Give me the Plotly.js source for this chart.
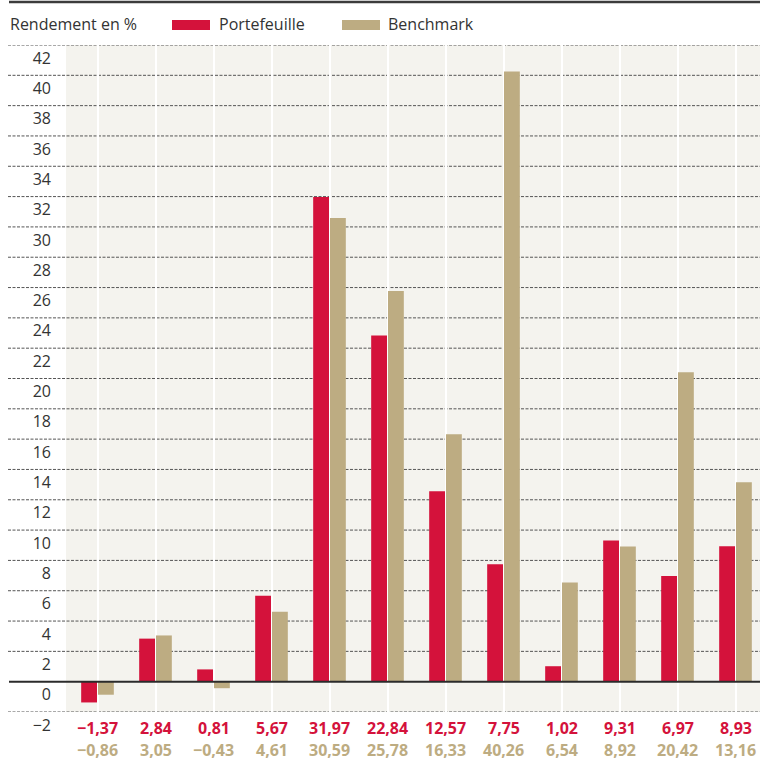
<!DOCTYPE html>
<html>
<head>
<meta charset="utf-8">
<script src="https://cdn.plot.ly/plotly-3.0.1.min.js"></script>
<style>
  html, body { margin: 0; padding: 0; background: #ffffff; }
  #chart { width: 760px; height: 758px; }
</style>
</head>
<body>
<div id="chart"></div>
<script>
// ---- Data ----
var categories = [1, 2, 3, 4, 5, 6, 7, 8, 9, 10, 11, 12];
var portefeuille = [-1.37, 2.84, 0.81, 5.67, 31.97, 22.84, 12.57, 7.75, 1.02, 9.31, 6.97, 8.93];
var benchmark = [-0.86, 3.05, -0.43, 4.61, 30.59, 25.78, 16.33, 40.26, 6.54, 8.92, 20.42, 13.16];
var yTickValues = [-2, 0, 2, 4, 6, 8, 10, 12, 14, 16, 18, 20, 22, 24, 26, 28, 30, 32, 34, 36, 38, 40, 42];
var seriesNames = ['Portefeuille', 'Benchmark'];
var yTitle = 'Rendement en %';

// ---- Style ----
var RED = '#d4123b';
var TAN = '#bdac82';
var BG = '#f4f3ee';
var TEXT = '#333333';
var FONT = 'Open Sans, Noto Sans, sans-serif';

var W = 760, H = 758;
var M = {l: 66, r: 0, t: 45, b: 46};
var PW = W - M.l - M.r, PH = H - M.t - M.b;
function px2x(px) { return (px - M.l) / PW; }
function px2y(py) { return 1 - (py - M.t) / PH; }

function fmt(v) {
  return v.toFixed(2).replace('.', ',').replace('-', '\u2212');
}

var idx = categories.map(function (c, i) { return i; });

var traces = [
  {type: 'bar', x: idx, y: portefeuille, name: seriesNames[0],
   marker: {color: RED, line: {width: 0}}, hoverinfo: 'skip'},
  {type: 'bar', x: idx, y: benchmark, name: seriesNames[1],
   marker: {color: TAN, line: {width: 0}}, hoverinfo: 'skip'}
];

var shapes = [];
// dashed horizontal gridlines, extending into left margin
yTickValues.forEach(function (v) {
  if (v === 0) return;
  shapes.push({type: 'line', xref: 'paper', yref: 'y', x0: px2x(8), x1: 1, y0: v, y1: v,
    line: {color: '#555555', width: 1, dash: '3px,1.5px'}, layer: 'below'});
});
// zero line
shapes.push({type: 'line', xref: 'paper', yref: 'y', x0: px2x(9), x1: 1, y0: 0, y1: 0,
  line: {color: '#2b2b2b', width: 2}, layer: 'above'});
// top rule
shapes.push({type: 'line', xref: 'paper', yref: 'paper', x0: px2x(9), x1: 1, y0: px2y(2), y1: px2y(2),
  line: {color: '#3c3c3c', width: 2.5}, layer: 'above'});
// legend swatches
shapes.push({type: 'rect', xref: 'paper', yref: 'paper', x0: px2x(172), x1: px2x(210), y0: px2y(30), y1: px2y(20),
  fillcolor: RED, line: {width: 0}});
shapes.push({type: 'rect', xref: 'paper', yref: 'paper', x0: px2x(342), x1: px2x(380), y0: px2y(30), y1: px2y(20),
  fillcolor: TAN, line: {width: 0}});

var annotations = [];
annotations.push({xref: 'paper', yref: 'paper', x: px2x(8), y: px2y(24), xanchor: 'left', yanchor: 'middle',
  text: yTitle, showarrow: false, font: {family: FONT, size: 16, color: TEXT}});
annotations.push({xref: 'paper', yref: 'paper', x: px2x(217), y: px2y(24), xanchor: 'left', yanchor: 'middle',
  text: seriesNames[0], showarrow: false, font: {family: FONT, size: 16, color: TEXT}});
annotations.push({xref: 'paper', yref: 'paper', x: px2x(386), y: px2y(24), xanchor: 'left', yanchor: 'middle',
  text: seriesNames[1], showarrow: false, font: {family: FONT, size: 16, color: TEXT}});

idx.forEach(function (i) {
  annotations.push({xref: 'x', yref: 'paper', x: i, y: px2y(728), xanchor: 'center', yanchor: 'middle',
    text: '<b>' + fmt(portefeuille[i]) + '</b>', showarrow: false,
    font: {family: FONT, size: 16, color: RED}});
  annotations.push({xref: 'x', yref: 'paper', x: i, y: px2y(750), xanchor: 'center', yanchor: 'middle',
    text: '<b>' + fmt(benchmark[i]) + '</b>', showarrow: false,
    font: {family: FONT, size: 16, color: TAN}});
});

var layout = {
  width: W, height: H,
  margin: M,
  paper_bgcolor: '#ffffff',
  plot_bgcolor: BG,
  showlegend: false,
  barmode: 'group',
  bargap: 0.42,
  bargroupgap: 0.06,
  font: {family: FONT, size: 16, color: TEXT},
  xaxis: {
    range: [-31.5 / 58, (760 - 97.5) / 58],
    tickvals: idx,
    showticklabels: false,
    showgrid: true, gridcolor: '#ffffff', gridwidth: 2,
    zeroline: false, showline: false, ticks: ''
  },
  yaxis: {
    range: [-2, 42],
    tickvals: yTickValues,
    ticktext: yTickValues.map(function (v) { return String(v).replace('-', '\u2212'); }),
    showgrid: false, zeroline: false, showline: false, ticks: '',
    ticklabelshift: 13,
    ticklabelstandoff: 14,
    tickfont: {family: FONT, size: 16, color: TEXT}
  },
  shapes: shapes,
  annotations: annotations
};

Plotly.newPlot('chart', traces, layout, {staticPlot: true, displayModeBar: false});
</script>
</body>
</html>
